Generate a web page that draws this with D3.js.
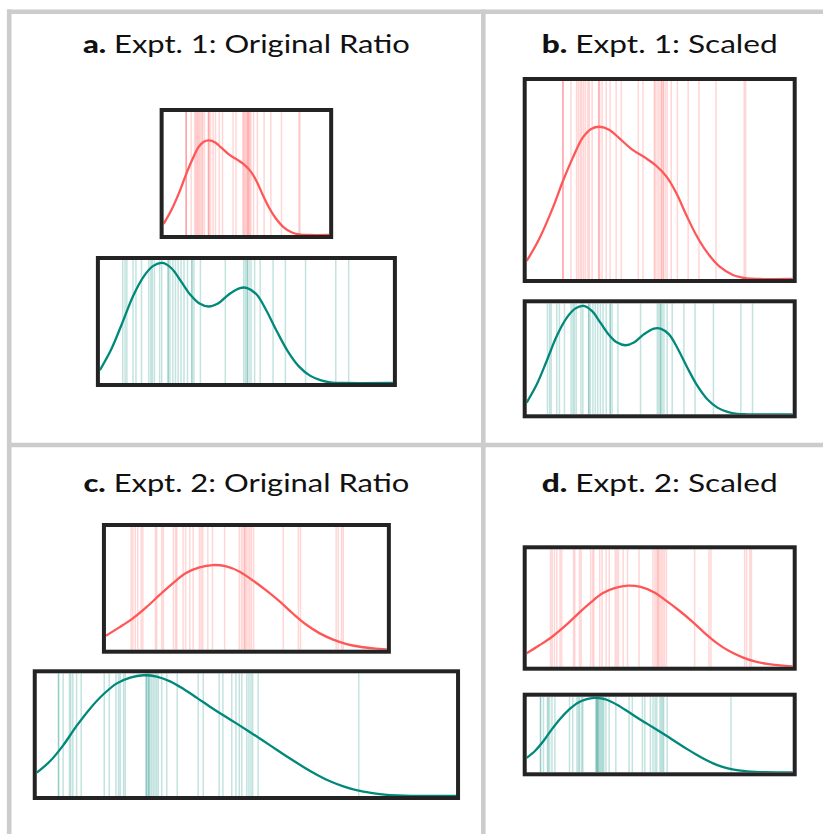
<!DOCTYPE html>
<html>
<head>
<meta charset="utf-8">
<script src="https://cdn.jsdelivr.net/npm/d3@7"></script>
<style>
  html, body { margin: 0; padding: 0; background: #fff; }
  svg { display: block; }
</style>
</head>
<body>
<div id="chart"></div>
<script>
// Expt. 1 -- condition 1 (red)
const EXPT1_RED_DOMAIN = [0, 5.65];
const EXPT1_RED_RUG = [0.77, 0.77, 0.77, 0.94, 1.06, 1.10, 1.14, 1.17, 1.21, 1.25, 1.30, 1.33, 1.39,
  1.53, 1.53, 1.55, 1.60, 1.69, 1.77, 1.90, 2.01, 2.37, 2.47, 2.71, 2.73, 2.77, 2.81, 2.86, 2.86,
  2.90, 2.90, 2.94, 2.98, 3.07, 3.20, 3.43, 3.66, 4.02, 4.62, 4.65];
const EXPT1_RED_X = [0, 0.27, 0.55, 0.77, 0.98, 1.19, 1.37, 1.55, 1.76, 1.97, 2.25, 2.54, 2.75,
  2.97, 3.18, 3.39, 3.60, 3.82, 4.10, 4.38, 4.67, 4.96, 5.65];
const EXPT1_RED_DENSITY = [0.091, 0.205, 0.357, 0.495, 0.613, 0.714, 0.758, 0.769, 0.753, 0.710,
  0.652, 0.609, 0.572, 0.517, 0.433, 0.323, 0.222, 0.138, 0.062, 0.020, 0.003, 0, 0];

// Expt. 1 -- condition 2 (teal)
const EXPT1_TEAL_DOMAIN = [0, 10];
const EXPT1_TEAL_RUG = [0.78, 0.86, 0.92, 1.13, 1.23, 1.42, 1.67, 1.74, 1.79, 1.86, 2.04, 2.11,
  2.33, 2.33, 2.39, 2.49, 2.58, 2.67, 2.77, 2.87, 2.99, 3.14, 3.14, 3.21, 3.43, 4.28, 4.91, 4.97,
  5.03, 5.03, 5.09, 5.16, 5.28, 5.47, 5.91, 6.33, 7.02, 8.05, 8.49];
const EXPT1_TEAL_X = [0, 0.38, 0.75, 1.13, 1.51, 1.82, 2.14, 2.45, 2.77, 3.08, 3.40, 3.71, 4.03,
  4.40, 4.78, 5.03, 5.35, 5.66, 6.04, 6.42, 6.79, 7.17, 7.55, 7.92, 8.30, 10];
const EXPT1_TEAL_DENSITY = [0.105, 0.27, 0.48, 0.706, 0.871, 0.952, 0.976, 0.931, 0.826, 0.72,
  0.646, 0.622, 0.646, 0.72, 0.772, 0.772, 0.72, 0.60, 0.42, 0.255, 0.135, 0.06, 0.021, 0.003, 0, 0];

// Expt. 2 -- condition 1 (red)
const EXPT2_RED_DOMAIN = [0, 6.7];
const EXPT2_RED_RUG = [0.60, 0.64, 0.70, 0.76, 0.84, 0.88, 1.18, 1.21, 1.33, 1.37, 1.61, 1.66,
  1.69, 1.84, 1.90, 2.00, 2.08, 2.23, 2.27, 2.31, 2.43, 2.54, 2.83, 3.18, 3.23, 3.27, 3.31, 3.31,
  3.35, 3.39, 3.43, 3.47, 3.52, 4.23, 4.59, 4.64, 5.49, 5.54, 5.62, 5.66];
const EXPT2_RED_X = [0, 0.32, 0.64, 0.96, 1.28, 1.60, 1.91, 2.23, 2.55, 2.87, 3.19, 3.51, 3.83,
  4.15, 4.47, 4.79, 5.10, 5.42, 5.74, 6.06, 6.38, 6.70];
const EXPT2_RED_DENSITY = [0.114, 0.182, 0.255, 0.345, 0.446, 0.543, 0.625, 0.671, 0.690, 0.679,
  0.636, 0.563, 0.481, 0.391, 0.291, 0.201, 0.133, 0.082, 0.046, 0.024, 0.011, 0.003];

// Expt. 2 -- condition 2 (teal)
const EXPT2_TEAL_DOMAIN = [0, 10];
const EXPT2_TEAL_RUG = [0.52, 0.52, 0.63, 0.78, 0.81, 0.86, 0.95, 1.06, 1.61, 1.73, 1.89, 1.95,
  1.99, 2.07, 2.11, 2.61, 2.61, 2.64, 2.67, 2.67, 2.70, 2.74, 2.78, 2.82, 2.86, 2.90, 2.98, 3.10,
  3.35, 3.85, 3.97, 4.35, 4.44, 4.65, 4.75, 4.83, 4.89, 5.01, 5.06, 5.11, 5.15, 5.28, 7.68];
const EXPT2_TEAL_X = [0, 0.32, 0.63, 0.95, 1.27, 1.59, 1.91, 2.23, 2.54, 2.86, 3.18, 3.50, 3.82,
  4.13, 4.45, 4.77, 5.09, 5.41, 5.73, 6.05, 6.37, 6.69, 7.01, 7.33, 7.65, 7.97, 8.29, 8.61, 8.93, 10];
const EXPT2_TEAL_DENSITY = [0.19, 0.285, 0.413, 0.571, 0.712, 0.829, 0.918, 0.965, 0.984, 0.973,
  0.934, 0.872, 0.800, 0.728, 0.658, 0.590, 0.520, 0.448, 0.375, 0.303, 0.235, 0.172, 0.118, 0.076,
  0.045, 0.025, 0.011, 0.004, 0.001, 0];

const PANEL_LETTERS = ["a.", "b.", "c.", "d."];
const PANEL_TITLES = ["Expt. 1: Original Ratio", "Expt. 1: Scaled", "Expt. 2: Original Ratio", "Expt. 2: Scaled"];

const RED = "#ff5757";
const TEAL = "#00897b";
const BORDER_COLOR = "#232323";
const GRID_COLOR = "#cccccc";

const WIDTH = 823;
const HEIGHT = 834;

// Build series
const makeSeries = (domain, rug, xs, dens, color) => ({
  domain,
  rug,
  curve: xs.map((x, i) => ({ x, y: dens[i] })),
  color,
});

const EXPT1 = [
  makeSeries(EXPT1_RED_DOMAIN, EXPT1_RED_RUG, EXPT1_RED_X, EXPT1_RED_DENSITY, RED),
  makeSeries(EXPT1_TEAL_DOMAIN, EXPT1_TEAL_RUG, EXPT1_TEAL_X, EXPT1_TEAL_DENSITY, TEAL),
];
const EXPT2 = [
  makeSeries(EXPT2_RED_DOMAIN, EXPT2_RED_RUG, EXPT2_RED_X, EXPT2_RED_DENSITY, RED),
  makeSeries(EXPT2_TEAL_DOMAIN, EXPT2_TEAL_RUG, EXPT2_TEAL_X, EXPT2_TEAL_DENSITY, TEAL),
];

// Panel layout (inner box tops / heights, title width)
const panels = [
  { expt: EXPT1, mode: "original", cx: 246.4, titleY: 53, titleW: 327, longest: 293,
    boxes: [{ top: 112, h: 123 }, { top: 260, h: 123 }] },
  { expt: EXPT1, mode: "scaled", cx: 659.7, titleY: 53, titleW: 236, width: 266,
    boxes: [{ top: 81, h: 198 }, { top: 303.3, h: 111 }] },
  { expt: EXPT2, mode: "original", cx: 246.4, titleY: 492, titleW: 326, longest: 419.3,
    boxes: [{ top: 527, h: 122.7 }, { top: 673.3, h: 122.7 }] },
  { expt: EXPT2, mode: "scaled", cx: 659.7, titleY: 492, titleW: 236, width: 266,
    boxes: [{ top: 549.3, h: 117.4 }, { top: 696.7, h: 75.6 }] },
];

const svg = d3
  .select("#chart")
  .append("svg")
  .attr("width", WIDTH)
  .attr("height", HEIGHT);

// Grid lines
const gridLines = [
  [7, 11.7, WIDTH, 11.7],
  [9.2, 9.5, 9.2, HEIGHT],
  [483.3, 9.5, 483.3, HEIGHT],
  [7, 445, WIDTH, 445],
];
svg
  .selectAll("line.grid")
  .data(gridLines)
  .enter()
  .append("line")
  .classed("grid", true)
  .attr("x1", (d) => d[0])
  .attr("y1", (d) => d[1])
  .attr("x2", (d) => d[2])
  .attr("y2", (d) => d[3])
  .style("stroke", GRID_COLOR)
  .style("stroke-width", 4.6);

const defs = svg.append("defs");
let clipCount = 0;

const drawBox = (g, series, x0, w, top, h) => {
  const xScale = d3.scaleLinear().domain(series.domain).range([x0, x0 + w]);
  const yScale = d3.scaleLinear().domain([0, 1]).range([top + h, top]);

  const clipId = "clip-" + clipCount++;
  defs
    .append("clipPath")
    .attr("id", clipId)
    .append("rect")
    .attr("x", x0)
    .attr("y", top)
    .attr("width", w)
    .attr("height", h);

  const inner = g.append("g").attr("clip-path", `url(#${clipId})`);

  // Rug lines
  inner
    .selectAll("line.rug")
    .data(series.rug)
    .enter()
    .append("line")
    .classed("rug", true)
    .attr("x1", (d) => xScale(d))
    .attr("x2", (d) => xScale(d))
    .attr("y1", top)
    .attr("y2", top + h)
    .style("stroke", series.color)
    .style("stroke-opacity", 0.24)
    .style("stroke-width", 1.5);

  // Density curve
  const line = d3
    .line()
    .x((d) => xScale(d.x))
    .y((d) => yScale(d.y))
    .curve(d3.curveCatmullRom.alpha(0.5));
  inner
    .append("path")
    .attr("d", line(series.curve))
    .style("fill", "none")
    .style("stroke", series.color)
    .style("stroke-width", 2.3);

  // Frame
  g.append("rect")
    .attr("x", x0 - 2)
    .attr("y", top - 2)
    .attr("width", w + 4)
    .attr("height", h + 4)
    .style("fill", "none")
    .style("stroke", BORDER_COLOR)
    .style("stroke-width", 4);
};

panels.forEach((p, pi) => {
  const g = svg.append("g").classed("panel", true);

  // Title
  const title = g
    .append("text")
    .attr("x", p.cx)
    .attr("y", p.titleY)
    .attr("text-anchor", "middle")
    .attr("textLength", p.titleW)
    .attr("lengthAdjust", "spacingAndGlyphs")
    .style("font-family", "Lato, 'Open Sans', sans-serif")
    .style("font-size", "25px")
    .style("fill", "#111");
  title.append("tspan").style("font-weight", "900").text(PANEL_LETTERS[pi]);
  title.append("tspan").text(" " + PANEL_TITLES[pi]);

  // Original ratio: shared units-to-pixels; scaled: same width for both
  const maxSpan = d3.max(p.expt, (s) => s.domain[1] - s.domain[0]);
  p.expt.forEach((s, si) => {
    const w =
      p.mode === "original"
        ? (p.longest * (s.domain[1] - s.domain[0])) / maxSpan
        : p.width;
    drawBox(g, s, p.cx - w / 2, w, p.boxes[si].top, p.boxes[si].h);
  });
});
</script>
</body>
</html>
